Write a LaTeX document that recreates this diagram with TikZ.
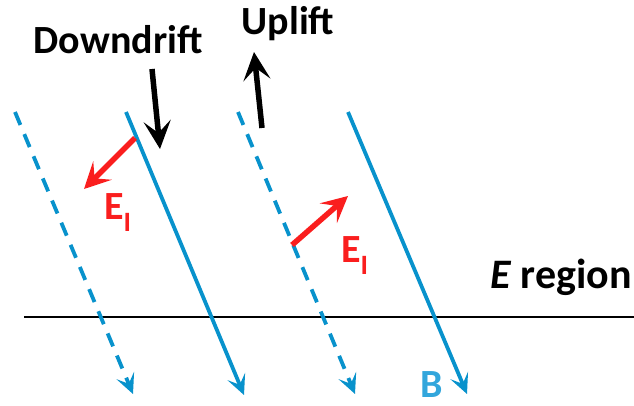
\documentclass[tikz,border=0pt]{standalone}
\usepackage{fontspec}
\setmainfont{Carlito}
\usetikzlibrary{arrows.meta}
\definecolor{bblue}{RGB}{8,146,204}
\definecolor{blabel}{RGB}{50,166,220}
\definecolor{ered}{RGB}{250,30,30}
\tikzset{
  fieldline/.style={bblue, line width=3.8pt, -{Stealth[length=20pt,width=19pt,inset=9pt]}},
  dashline/.style={fieldline, dash pattern=on 14pt off 10pt},
  redarrow/.style={ered, line width=5.5pt, -{Stealth[length=26pt,width=26pt,inset=11pt]}},
  blackarrow/.style={black, line width=5.5pt, -{Stealth[length=28pt,width=27pt,inset=12pt]}},
  lbl/.style={font=\fontsize{40}{40}\selectfont\bfseries, inner sep=0pt},
}
\begin{document}
\begin{tikzpicture}[x=1pt,y=-1pt]
\useasboundingbox (0,0) rectangle (634,406);
% horizontal line
\coordinate (h1) at (24,317);
\coordinate (h2) at (634,317);
\draw[line width=2.4pt] (h1) -- (h2);
% field lines
\coordinate (d1s) at (15,112);  \coordinate (d1e) at (133,394);
\coordinate (s1s) at (126,112); \coordinate (s1e) at (244,395);
\coordinate (d2s) at (238,112); \coordinate (d2e) at (355,394);
\coordinate (s2s) at (348,112); \coordinate (s2e) at (467,394);
\draw[dashline] (d1s) -- (d1e);
\draw[fieldline] (s1s) -- (s1e);
\draw[dashline] (d2s) -- (d2e);
\draw[fieldline] (s2s) -- (s2e);
% red arrows
\coordinate (r1s) at (135,138); \coordinate (r1e) at (84,189);
\coordinate (r2s) at (292,245); \coordinate (r2e) at (348,196);
\draw[redarrow] (r1s) -- (r1e);
\draw[redarrow] (r2s) -- (r2e);
% black arrows
\coordinate (k1s) at (152,69); \coordinate (k1e) at (160,149);
\coordinate (k2s) at (262,128); \coordinate (k2e) at (254,52);
\draw[blackarrow] (k1s) -- (k1e);
\draw[blackarrow] (k2s) -- (k2e);
% labels
\node[lbl, anchor=base] (down) at (118,54) {Downdrift};
\node[lbl, anchor=base] (up) at (288,35) {Uplift};
\node[lbl, ered, anchor=base west] (e1) at (104,219) {E\raisebox{-0.3em}{\fontsize{28}{28}\selectfont I}};
\node[lbl, ered, anchor=base west] (e2) at (341,262) {E\raisebox{-0.3em}{\fontsize{28}{28}\selectfont I}};
\node[lbl, anchor=base east] (ereg) at (632,288) {\fontsize{42}{42}\selectfont\itshape E\upshape{} region};
\node[lbl, blabel, anchor=base] (b) at (432,397) {B};
\end{tikzpicture}
\end{document}
